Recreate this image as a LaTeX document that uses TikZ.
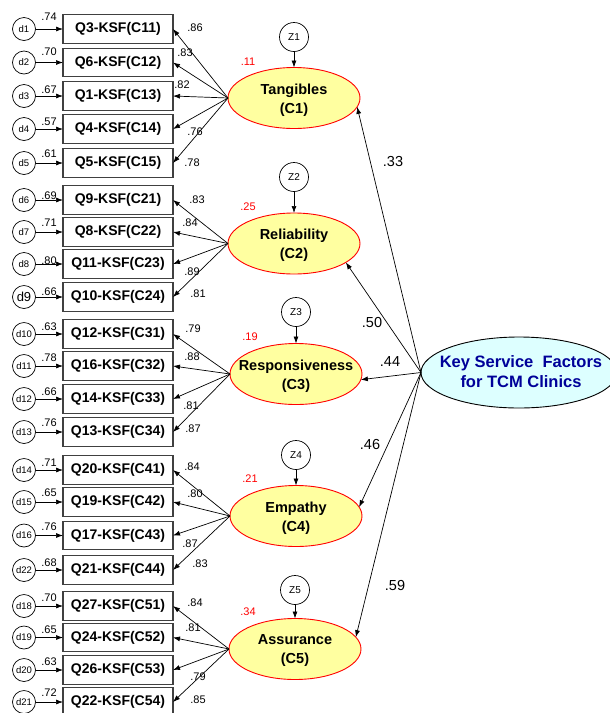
\documentclass[tikz,border=0pt]{standalone}
\usepackage{fontspec}
\setmainfont{Liberation Sans}
\usetikzlibrary{shapes.geometric,arrows.meta}
\definecolor{latfill}{RGB}{255,255,160}
\definecolor{keyfill}{RGB}{221,255,255}
\definecolor{keytext}{RGB}{0,0,153}
\definecolor{boxline}{RGB}{64,64,64}
\begin{document}
\begin{tikzpicture}[x=1pt,y=-1pt,
  every node/.style={inner sep=0pt, outer sep=0pt},
  ind/.style={draw=boxline, line width=1.1pt, minimum width=110pt, minimum height=28.5pt,
    font=\fontsize{14}{16}\selectfont\bfseries},
  errc/.style={draw, circle, minimum size=23pt, line width=0.7pt},
  zc/.style={draw, circle, minimum size=29pt, line width=0.7pt, font=\fontsize{10}{11}\selectfont},
  lat/.style={draw=red, fill=latfill, ellipse, line width=0.9pt, minimum width=132pt, minimum height=61pt},
  lattext/.style={align=center, font=\fontsize{14.5}{19}\selectfont\bfseries},
  keyell/.style={draw, fill=keyfill, ellipse, line width=0.9pt, minimum width=196pt, minimum height=71pt},
  keytxt/.style={align=center, text=keytext, font=\fontsize{16.5}{20}\selectfont\bfseries},
  coef/.style={font=\fontsize{11}{12}\selectfont},
  rsq/.style={font=\fontsize{11}{12}\selectfont, text=red},
  pcoef/.style={font=\fontsize{14.5}{16}\selectfont},
  arr/.style={-{Latex[length=7pt,width=5pt]}, line width=0.7pt}
]
\useasboundingbox (0,0) rectangle (610,713);

% second-order factor
\node[keyell] (K) at (519,372.5) {};
\node[keytxt] at (521,372) {Key Service\ \ Factors\\for TCM Clinics};

% first-order factors (labels set slightly below the centre)
\node[lat] (C1) at (294,98) {};
\node[lattext] at ([yshift=-2]C1) {Tangibles\\(C1)};
\node[lat] (C2) at (294,243.5) {};
\node[lattext] at ([yshift=-2]C2) {Reliability\\(C2)};
\node[lat] (C3) at (296,374) {};
\node[lattext] at ([yshift=-2]C3) {Responsiveness\\(C3)};
\node[lat] (C4) at (296,516) {};
\node[lattext] at ([yshift=-2]C4) {Empathy\\(C4)};
\node[lat] (C5) at (295,649) {};
\node[lattext] at ([yshift=-2]C5) {Assurance\\(C5)};

% disturbances
\node[zc] (Z1) at (294,37) {Z1};
\node[zc] (Z2) at (294,177) {Z2};
\node[zc] (Z3) at (296,312) {Z3};
\node[zc] (Z4) at (296,455) {Z4};
\node[zc] (Z5) at (295,590) {Z5};
\foreach \k in {1,...,5} { \draw[arr] (Z\k) -- (C\k); }

% squared multiple correlations
\node[rsq] at (248,62) {.11};
\node[rsq] at (248,207) {.25};
\node[rsq] at (250,337) {.19};
\node[rsq] at (250,479) {.21};
\node[rsq] at (248,612) {.34};

% structural paths
\draw[arr] (K.west) -- (C1.-8);
\draw[arr] (K.west) -- (C2.-20);
\draw[arr] (K.west) -- (C3.-5);
\draw[arr] (K.west) -- (C4.8);
\draw[arr] (K.west) -- (C5.11);
\node[pcoef] at (393,162) {.33};
\node[pcoef] at (372,323) {.50};
\node[pcoef] at (390,362) {.44};
\node[pcoef] at (370,445) {.46};
\node[pcoef] at (395,585) {.59};

% indicators, error terms and loadings
\foreach \i/\q/\y/\d/\df/\ev/\ey/\lv/\lx/\ly/\g in {
1/Q3-KSF(C11)/29/d1/9.5/.74/17/.86/195/28/1,
2/Q6-KSF(C12)/62.5/d2/9.5/.70/52/.83/185/53/1,
3/Q1-KSF(C13)/96/d3/9.5/.67/90/.82/182/85/1,
4/Q4-KSF(C14)/129/d4/9.5/.57/122/.76/195/132/1,
5/Q5-KSF(C15)/163/d5/9.5/.61/154/.78/192/163/1,
6/Q9-KSF(C21)/200/d6/9.5/.69/196/.83/197/200/2,
7/Q8-KSF(C22)/232/d7/9.5/.71/223/.84/190/223/2,
8/Q11-KSF(C23)/264/d8/9.5/.80/261/.89/192/272/2,
9/Q10-KSF(C24)/297/d9/13/.66/292/.81/198/294/2,
10/Q12-KSF(C31)/334/d10/9.5/.63/327/.79/193/329/3,
11/Q16-KSF(C32)/366/d11/9.5/.78/358/.88/192/357/3,
12/Q14-KSF(C33)/399/d12/9.5/.66/392/.81/191/406/3,
13/Q13-KSF(C34)/432/d13/9.5/.76/423/.87/193/429/3,
14/Q20-KSF(C41)/470/d14/9.5/.71/463/.84/192/467/4,
15/Q19-KSF(C42)/502/d15/9.5/.65/493/.80/195/494/4,
16/Q17-KSF(C43)/535.5/d16/9.5/.76/527/.87/190/544/4,
17/Q21-KSF(C44)/570/d22/9.5/.68/563/.83/200/564/4,
18/Q27-KSF(C51)/606/d18/9.5/.70/598/.84/195/603/5,
19/Q24-KSF(C52)/637.5/d19/9.5/.65/630/.81/193/628/5,
20/Q26-KSF(C53)/670/d20/9.5/.63/662/.79/198/677/5,
21/Q22-KSF(C54)/702/d21/9.5/.72/693/.85/198/700/5}
{
  \node[ind] (b\i) at (118,\y) {\q};
  \node[errc, font=\fontsize{\df}{\df}\selectfont] (e\i) at (24,\y) {\d};
  \draw[arr] (e\i) -- (b\i);
  \node[coef] at (49,\ey) {\ev};
  \draw[arr] (C\g.west) -- (b\i.east);
  \node[coef] at (\lx,\ly) {\lv};
}
\end{tikzpicture}
\end{document}
